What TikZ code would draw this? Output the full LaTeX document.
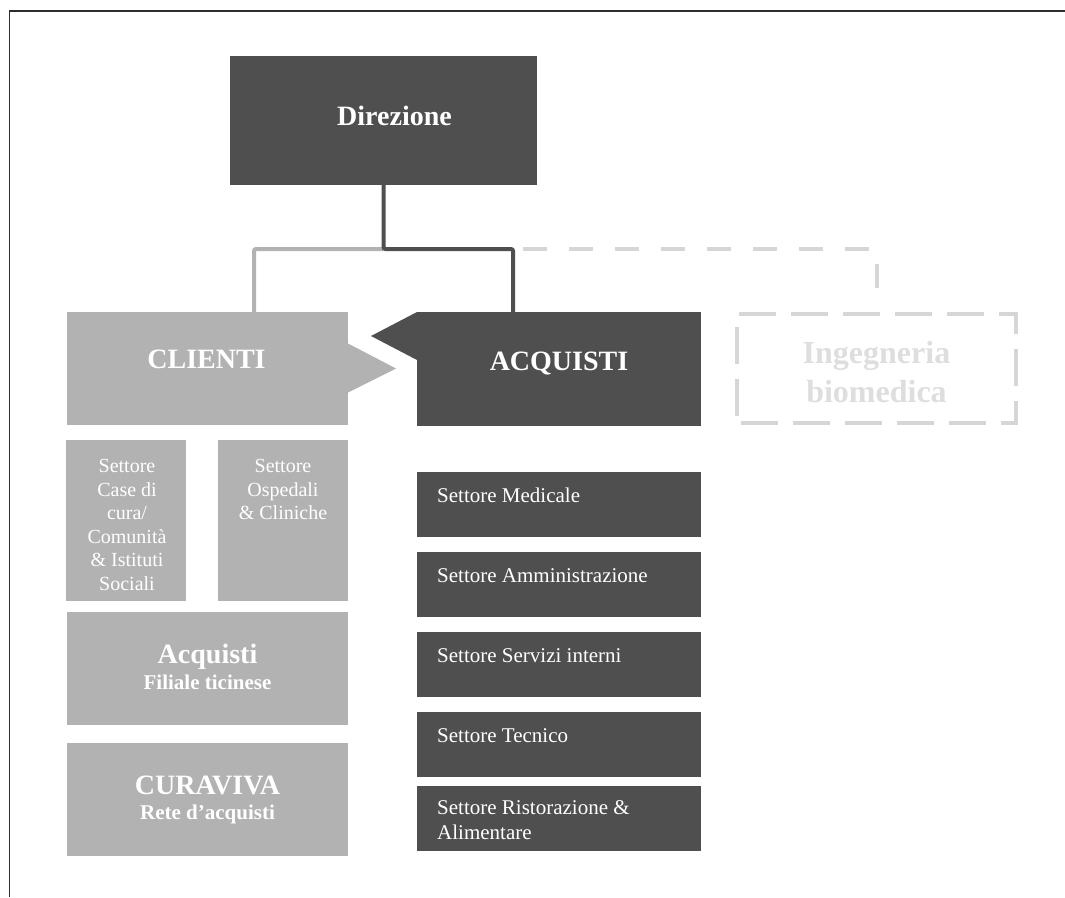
\documentclass[tikz,border=0pt]{standalone}
\usepackage{fontspec}
\setmainfont{Liberation Serif}
\usetikzlibrary{calc}

\definecolor{boxdark}{RGB}{79,79,79}
\definecolor{boxlight}{RGB}{178,178,178}
\definecolor{boxpale}{RGB}{214,214,214}
\definecolor{textpale}{RGB}{222,222,222}
\definecolor{framecol}{RGB}{45,45,45}

\tikzset{
  darkbox/.style={fill=boxdark, inner sep=0pt, outer sep=0pt},
  lightbox/.style={fill=boxlight, inner sep=0pt, outer sep=0pt},
  palebox/.style={draw=boxpale, line width=4pt, inner sep=0pt, outer sep=0pt,
    dash pattern=on 37pt off 15pt, dash phase=-4pt},
  bigtitle/.style={text=white, inner sep=0pt, font=\bfseries\fontsize{28}{32}\selectfont},
  subtitle/.style={text=white, inner sep=0pt, font=\bfseries\fontsize{21}{25}\selectfont},
  palitle/.style={text=textpale, inner sep=0pt, font=\bfseries\fontsize{32}{39}\selectfont},
  smalltext/.style={text=white, inner sep=0pt, align=center, font=\fontsize{20}{23.5}\selectfont},
  listtext/.style={text=white, inner sep=0pt, align=left, font=\fontsize{21}{25}\selectfont},
  darkline/.style={draw=boxdark, line width=4pt, rounded corners=2pt},
  lightline/.style={draw=boxlight, line width=4pt, rounded corners=2pt},
  paleline/.style={draw=boxpale, line width=4pt, dash pattern=on 24pt off 22pt},
}

\begin{document}
\begin{tikzpicture}[x=1pt, y=-1pt]
\useasboundingbox (0,0) rectangle (1065,897);

% page frame (top and left rule)
\draw[framecol, line width=1.3pt] (9.5,897) -- (9.5,11) -- (1065,11);

% management
\node[darkbox, minimum width=307pt, minimum height=129pt] (dir) at (383.5,120.5) {};
\node[bigtitle, anchor=base] (dirt) at (394.5,125) {Direzione};

% the two main units and the optional one
\node[lightbox, minimum width=281pt, minimum height=113pt] (cli) at (207.5,368.5) {};
\fill[boxlight] ([yshift=25pt]cli.east) -- ([xshift=48pt]cli.east) -- ([yshift=-24pt]cli.east) -- cycle;
\node[bigtitle, anchor=base] (clit) at (206.5,368) {CLIENTI};

\node[darkbox, minimum width=284pt, minimum height=114pt] (acq) at (559,369) {};
\fill[boxdark] (acq.north west) -- ([xshift=-46pt,yshift=-24pt]acq.north west) -- ([yshift=-48pt]acq.north west) -- cycle;
\node[bigtitle, anchor=base] (acqt) at (559,370) {ACQUISTI};

\node[palebox, minimum width=279pt, minimum height=109pt] (ing) at (876.5,368.5) {};
\node[palitle, anchor=base] (ing1) at (876.5,363) {Ingegneria};
\node[palitle, anchor=base] (ing2) at (876.5,402) {biomedica};

% connectors
\coordinate (j) at ($(dir.south)+(0,64)$);
\coordinate (cliin) at ([xshift=46.5pt]cli.north);
\coordinate (acqin) at ([xshift=-46pt]acq.north);
\coordinate (ingin) at ([yshift=14pt]ing.north);
\coordinate (dashstart) at ($(acqin |- j)+(10,0)$);
\draw[lightline] (j) -| (cliin);
\draw[darkline] (dir.south) -- (j) -| (acqin);
\draw[paleline] (dashstart) -| (ingin);

% client side
\node[lightbox, minimum width=120pt, minimum height=161pt] (s1) at (126,520.5) {};
\node[smalltext, anchor=north] (s1t) at (127,459.5) {Settore\\Case di\\cura/\\Comunità\\\& Istituti\\Sociali};
\node[lightbox, minimum width=130pt, minimum height=161pt] (s2) at (283,520.5) {};
\node[smalltext, anchor=north] (s2t) at (283,459.5) {Settore\\Ospedali\\\& Cliniche};

\node[lightbox, minimum width=281pt, minimum height=113pt] (fil) at (207.5,668.5) {};
\node[bigtitle, anchor=base] (filt1) at (207.5,663) {Acquisti};
\node[subtitle, anchor=base] (filt2) at (207.5,689) {Filiale ticinese};

\node[lightbox, minimum width=281pt, minimum height=113pt] (cur) at (207.5,799.5) {};
\node[bigtitle, anchor=base] (curt1) at (207.5,794) {CURAVIVA};
\node[subtitle, anchor=base] (curt2) at (207.5,819) {Rete d’acquisti};

% purchasing sectors
\node[darkbox, minimum width=284pt, minimum height=65pt] (r1) at (559,504.5) {};
\node[listtext, anchor=base west] (r1t) at (437,502) {Settore Medicale};
\node[darkbox, minimum width=284pt, minimum height=65pt] (r2) at (559,584.5) {};
\node[listtext, anchor=base west] (r2t) at (437,582) {Settore Amministrazione};
\node[darkbox, minimum width=284pt, minimum height=65pt] (r3) at (559,664.5) {};
\node[listtext, anchor=base west] (r3t) at (437,662) {Settore Servizi interni};
\node[darkbox, minimum width=284pt, minimum height=65pt] (r4) at (559,744.5) {};
\node[listtext, anchor=base west] (r4t) at (437,742) {Settore Tecnico};
\node[darkbox, minimum width=284pt, minimum height=65pt] (r5) at (559,818.5) {};
\node[listtext, anchor=north west] (r5t) at (437,800.5) {Settore Ristorazione \&\\Alimentare};
\end{tikzpicture}
\end{document}
